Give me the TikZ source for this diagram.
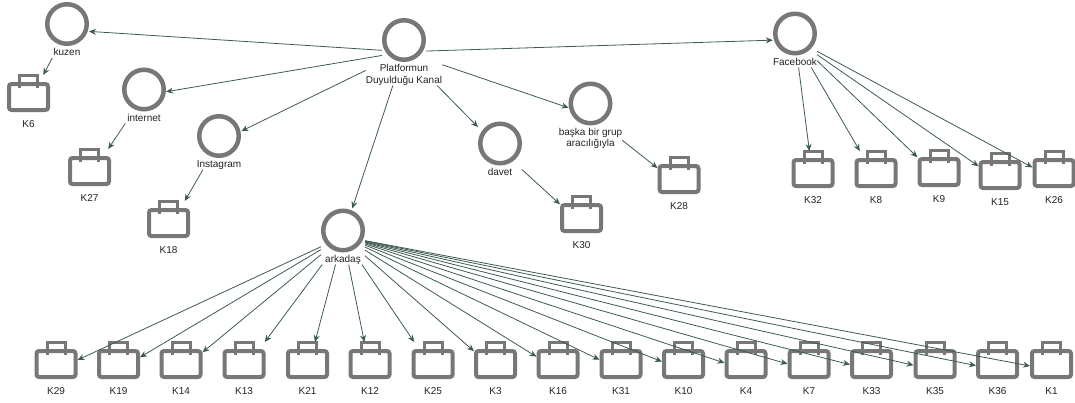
\documentclass[tikz,border=0pt]{standalone}
\usepackage{xcolor}
\usepackage{fontspec}
\setmainfont{Liberation Sans}
\usetikzlibrary{positioning,fit,arrows.meta}

\definecolor{icongray}{HTML}{777777}
\definecolor{edgegreen}{HTML}{3D5A52}
\definecolor{labelgray}{HTML}{222222}

\tikzset{
    chancircle/.style={circle, draw=icongray, line width=4.5pt, minimum size=39.5pt, inner sep=0pt},
    casebody/.style={rectangle, draw=icongray, line width=4pt, rounded corners=2.5pt, minimum width=39pt, minimum height=26pt, inner sep=0pt},
    casehandle/.style={draw=icongray, line width=3pt},
    lbl/.style={font=\fontsize{10}{11.5}\selectfont, text=labelgray, align=center, inner sep=0pt},
    hit/.style={rectangle, draw=none, inner sep=0pt, outer sep=0pt},
    edge/.style={draw=edgegreen, line width=0.8pt, -{Stealth[length=7pt,width=6pt]}}
}

% name, x, y of the circle, label
\newcommand{\channode}[4]{
    \node[chancircle] (#1c) at (#2,#3) {};
    \node[lbl, below=2pt of #1c] (#1t) {\rule{0pt}{7.5pt}#4\rule[-2pt]{0pt}{2pt}};
    \node[hit, fit=(#1c)(#1t)] (#1) {};
}
% name, x, y of the case body
\newcommand{\casenode}[3]{
    \node[casebody] (#1b) at (#2,#3) {};
    \draw[casehandle] ([xshift=-9pt,yshift=-6pt]#1b.north) -- ++(0,-12.5) -- ++(18,0) -- ++(0,12.5);
    \node[lbl, below=7.5pt of #1b] (#1t) {\rule{0pt}{7.5pt}#1\rule[-2pt]{0pt}{2pt}};
    \node[hit, minimum width=43pt, minimum height=56pt] (#1) at (#2,#3+6) {};
}

\begin{document}
\begin{tikzpicture}[x=1pt,y=-1pt]
        \useasboundingbox (0,0) rectangle (1075,402);

        % Channels
        \channode{platform}{404}{40}{Platformun\\Duyulduğu Kanal}
        \channode{kuzen}{67}{24}{kuzen}
        \channode{internet}{144}{89.5}{internet}
        \channode{instagram}{219}{136}{Instagram}
        \channode{arkadas}{343}{230.5}{arkadaş}
        \channode{davet}{500}{143.5}{davet}
        \channode{baska}{590.5}{103.5}{başka bir grup\\aracılığıyla}
        \channode{facebook}{795}{33.5}{Facebook}
        \node[hit, minimum width=44pt, minimum height=67pt] (platformn) at (platform) {};
        \node[hit, minimum width=44pt, minimum height=68pt] (baskan) at (baska) {};

        % Cases beside the channels
        \casenode{K6}{28.5}{97}
        \casenode{K27}{89.5}{171}
        \casenode{K18}{168.5}{223}
        \casenode{K30}{581.5}{218}
        \casenode{K28}{679}{179}

        % Cases of Facebook
        \casenode{K32}{813}{173}
        \casenode{K8}{876}{173}
        \casenode{K9}{939}{172}
        \casenode{K15}{1000}{175}
        \casenode{K26}{1054}{173}

        % Cases of arkadaş
        \casenode{K29}{56}{364}
        \casenode{K19}{118.5}{364}
        \casenode{K14}{181}{364}
        \casenode{K13}{244}{364}
        \casenode{K21}{307.5}{364}
        \casenode{K12}{370}{364}
        \casenode{K25}{433}{364}
        \casenode{K3}{495.5}{364}
        \casenode{K16}{558}{364}
        \casenode{K31}{621}{364}
        \casenode{K10}{683.5}{364}
        \casenode{K4}{746}{364}
        \casenode{K7}{809}{364}
        \casenode{K33}{871.5}{364}
        \casenode{K35}{935}{364}
        \casenode{K36}{997.5}{364}
        \casenode{K1}{1051.5}{364}

        % Connectors
        \draw[edge] (platformn) -- (kuzen);
        \draw[edge] (platformn) -- (internet);
        \draw[edge] (platform) -- (instagram);
        \draw[edge] (platform) -- (arkadas);
        \draw[edge] (platform) -- (davet);
        \draw[edge] (platform) -- (baskan);
        \draw[edge] (platformn) -- (facebook);
        \draw[edge] (kuzen) -- (K6);
        \draw[edge] (internet) -- (K27);
        \draw[edge] (instagram) -- (K18);
        \draw[edge] (davet) -- (K30);
        \draw[edge] (baska) -- (K28);
        \foreach \k in {K32,K8,K9,K15,K26}
            \draw[edge] (facebook) -- (\k);
        \foreach \k in {K29,K19,K14,K13,K21,K12,K25,K3,K16,K31,K10,K4,K7,K33,K35,K36,K1}
            \draw[edge] (arkadas) -- (\k);
    \end{tikzpicture}
\end{document}
